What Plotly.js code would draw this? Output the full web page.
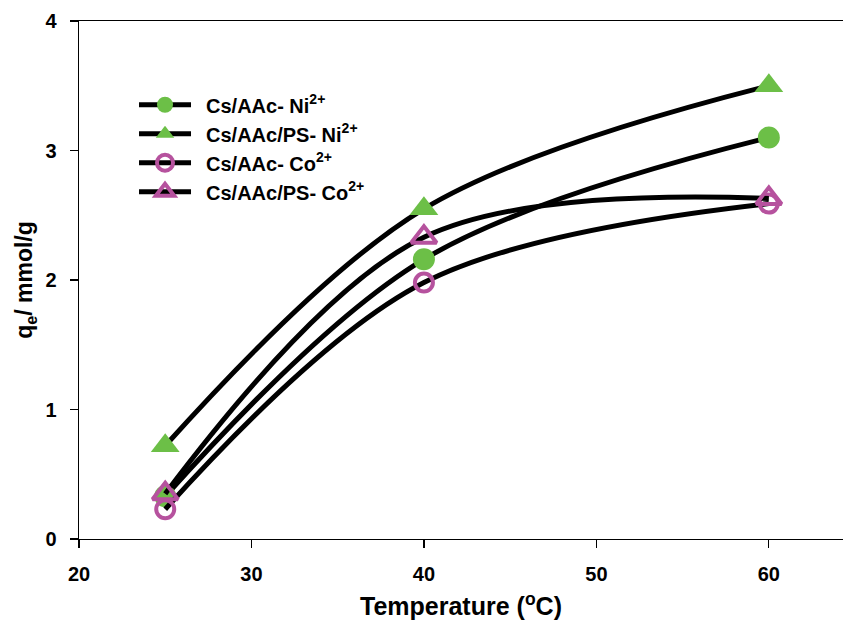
<!DOCTYPE html>
<html>
<head>
<meta charset="utf-8">
<script src="https://cdn.plot.ly/plotly-3.0.1.min.js"></script>
<style>html,body{margin:0;padding:0;background:#fff}#chart{width:844px;height:624px}</style>
</head>
<body>
<div id="chart"></div>
<script>
// Temperature (°C)
var temperature = [25, 40, 60];
// q_e (mmol/g)
var csAAcNi   = [0.33, 2.16, 3.10];
var csAAcPSNi = [0.72, 2.55, 3.50];
var csAAcCo   = [0.23, 1.98, 2.59];
var csAAcPSCo = [0.35, 2.33, 2.63];
var seriesNames = ['\u2002Cs/AAc- Ni<sup>2+</sup>', '\u2002Cs/AAc/PS- Ni<sup>2+</sup>', '\u2002Cs/AAc- Co<sup>2+</sup>', '\u2002Cs/AAc/PS- Co<sup>2+</sup>'];
var xTicks = [20, 30, 40, 50, 60];
var yTicks = [0, 1, 2, 3, 4];

var green = '#6cbf47';
var magenta = '#b6529e';
var fontFam = 'Arial, Liberation Sans, sans-serif';

function tr(y, name, symbol, color, open, size) {
  return {
    x: temperature, y: y, name: name, type: 'scatter', mode: 'lines+markers',
    line: {color: '#000', width: 5, shape: 'spline', smoothing: 1.0},
    marker: open ? {symbol: symbol, size: size, color: color, line: {color: color, width: 4}}
                 : {symbol: symbol, size: size, color: color, line: {width: 0}}
  };
}

var data = [
  tr(csAAcNi, seriesNames[0], 'circle', green, false, 22),
  tr(csAAcPSNi, seriesNames[1], 'triangle-up', green, false, 25),
  tr(csAAcCo, seriesNames[2], 'circle-open', magenta, true, 18),
  tr(csAAcPSCo, seriesNames[3], 'triangle-up-open', magenta, true, 22)
];

var layout = {
  width: 844, height: 624,
  margin: {l: 79, r: 1, t: 21, b: 85},
  paper_bgcolor: '#fff', plot_bgcolor: '#fff',
  font: {family: fontFam, color: '#000'},
  showlegend: true,
  legend: {
    x: 0.072, y: 0.876, xanchor: 'left', yanchor: 'top',
    bgcolor: 'rgba(0,0,0,0)', borderwidth: 0,
    font: {family: fontFam, size: 20, color: '#000', weight: 'bold'},
    itemwidth: 52, tracegroupgap: 0
  },
  xaxis: {
    range: [20, 64.3], tickvals: xTicks, ticktext: xTicks.map(String),
    ticks: 'outside', ticklen: 8, tickwidth: 1.3, tickcolor: '#000',
    ticklabelstandoff: 9,
    showline: true, linecolor: '#000', linewidth: 1.3, mirror: true,
    showgrid: false, zeroline: false,
    tickfont: {family: fontFam, size: 20, color: '#000', weight: 'bold'},
    title: {text: 'Temperature (<sup>o</sup>C)', font: {family: fontFam, size: 25, color: '#000', weight: 'bold'}, standoff: 13}
  },
  yaxis: {
    range: [0, 4], tickvals: yTicks, ticktext: yTicks.map(String),
    ticks: 'outside', ticklen: 8, tickwidth: 1.3, tickcolor: '#000',
    ticklabelstandoff: 9,
    showline: true, linecolor: '#000', linewidth: 1.3, mirror: false,
    showgrid: false, zeroline: false,
    tickfont: {family: fontFam, size: 20, color: '#000', weight: 'bold'},
    title: {text: 'q<sub>e</sub>/ mmol/g', font: {family: fontFam, size: 23, color: '#000', weight: 'bold'}, standoff: 6}
  }
};

Plotly.newPlot('chart', data, layout, {displayModeBar: false, staticPlot: true});
</script>
</body>
</html>
